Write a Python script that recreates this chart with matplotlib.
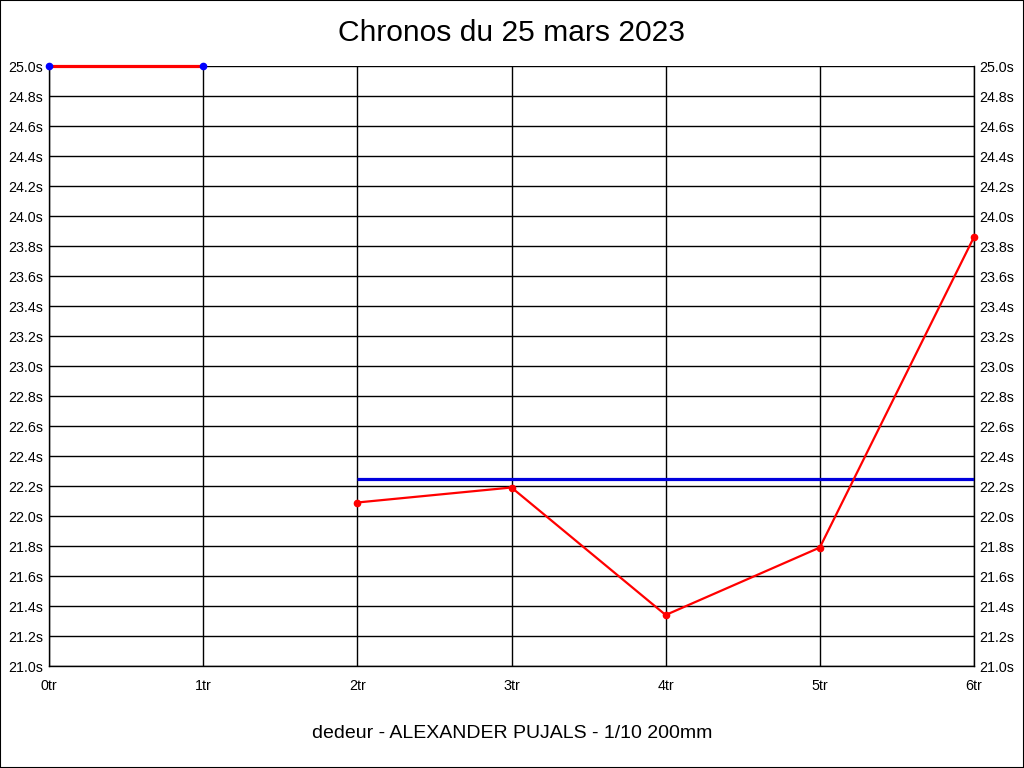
import matplotlib
matplotlib.use("Agg")
import matplotlib.pyplot as plt
from matplotlib.patches import Rectangle
import numpy as np

plt.rcParams['font.family'] = ['Liberation Sans', 'DejaVu Sans']

title = "Chronos du 25 mars 2023"
subtitle = "dedeur - ALEXANDER PUJALS - 1/10 200mm"
laps_top = [0, 1]
times_top = [25.0, 25.0]
laps = [2, 3, 4, 5, 6]
times = [22.09, 22.19, 21.34, 21.79, 23.86]
avg_laps = [2, 6]
avg_value = 22.25
x_ticks = [0, 1, 2, 3, 4, 5, 6]
x_labels = [f"{v}tr" for v in x_ticks]
y_ticks = np.round(np.arange(21.0, 25.01, 0.2), 1)
y_labels = [f"{v:.1f}s" for v in y_ticks]

fig = plt.figure(figsize=(10.24, 7.68), dpi=100)
fig.patches.append(Rectangle((0, 0), 1, 1, transform=fig.transFigure,
                             fill=False, edgecolor='black', linewidth=1.5))
ax = fig.add_axes([49/1024, 1-666/768, (974-49)/1024, (666-66)/768])

ax.set_xlim(0, 6)
ax.set_ylim(21.0, 25.0)
ax.set_xticks(x_ticks)
ax.set_xticklabels(x_labels)
ax.set_yticks(y_ticks)
ax.set_yticklabels(y_labels)
ax.tick_params(axis='both', length=0, labelsize=10.3, pad=4)
ax.tick_params(axis='y', right=True, labelright=True)
ax.tick_params(axis='x', pad=9)
ax.grid(True, color='black', linewidth=1)
ax.set_axisbelow(True)
ax.spines['top'].set_visible(False)
for s in ['left', 'bottom', 'right']:
    ax.spines[s].set_color('black')
    ax.spines[s].set_linewidth(1)

ax.plot(avg_laps, [avg_value, avg_value], color='#0000dd', linewidth=2.3, solid_capstyle='butt', zorder=3)
ax.plot(laps_top, times_top, color='red', linewidth=2.3, marker='o', markersize=4.5,
        markerfacecolor='blue', markeredgecolor='blue', clip_on=False, zorder=4)
ax.plot(laps, times, color='red', linewidth=1.6, marker='o', markersize=4.5,
        markerfacecolor='red', markeredgecolor='red', clip_on=False, zorder=4)

fig.text(0.5, 1-33/768, title, ha='center', va='center', fontsize=21.6)
fig.text(0.5, 1-733/768, subtitle, ha='center', va='center', fontsize=14)

fig.savefig("out.png", dpi=100)
